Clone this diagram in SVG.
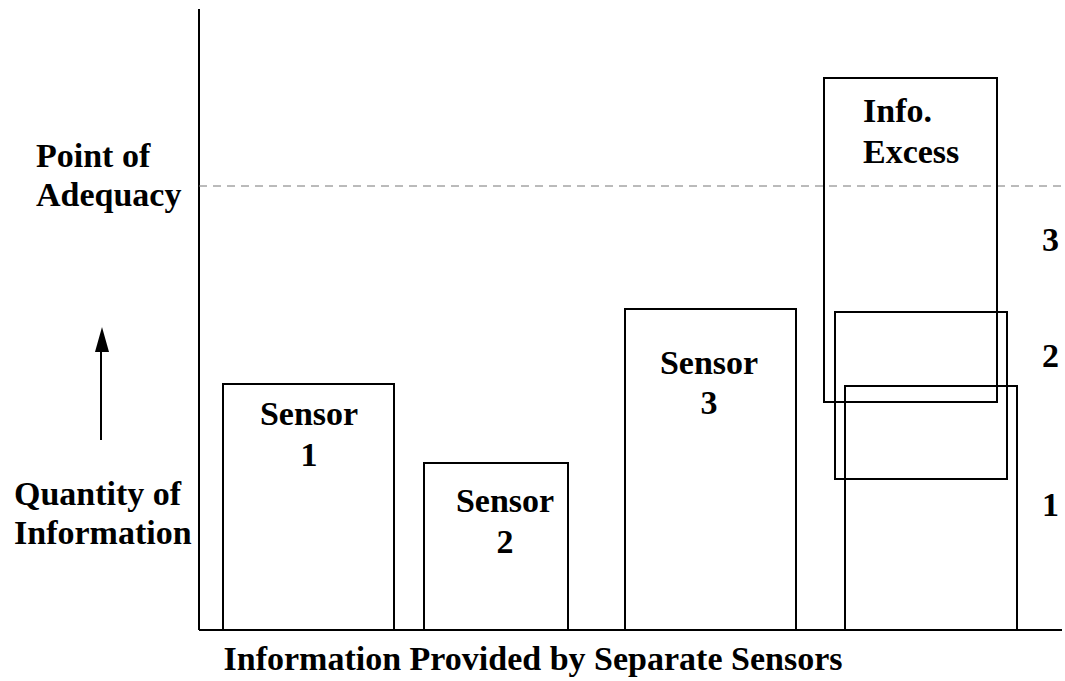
<svg xmlns="http://www.w3.org/2000/svg" width="1065" height="681" viewBox="0 0 1065 681">
<style>
text{font-family:"Liberation Serif","Times New Roman",serif;font-weight:bold;font-size:34px;fill:#000}
.c{text-anchor:middle}
.box{fill:none;stroke:#000;stroke-width:2}
.axis{stroke:#000;stroke-width:2;fill:none}
</style>
<rect width="1065" height="681" fill="#fff"/>
<g id="axes">
<line class="axis" x1="199" y1="9" x2="199" y2="630"/>
<line class="axis" x1="199" y1="630" x2="1062" y2="630"/>
<line x1="199" y1="186" x2="1065" y2="186" stroke="#777" stroke-width="1" stroke-dasharray="8 6"/>
</g>
<g id="sensor1">
<rect class="box" x="223" y="384" width="171" height="246"/>
<text class="c" x="309" y="425">Sensor</text>
<text class="c" x="309" y="466">1</text>
</g>
<g id="sensor2">
<rect class="box" x="424" y="463" width="144" height="167"/>
<text class="c" x="505" y="512">Sensor</text>
<text class="c" x="505" y="553">2</text>
</g>
<g id="sensor3">
<rect class="box" x="625" y="309" width="171" height="321"/>
<text class="c" x="709" y="374">Sensor</text>
<text class="c" x="709" y="414">3</text>
</g>
<g id="fused1">
<rect class="box" x="845" y="386" width="172" height="244"/>
</g>
<g id="fused2">
<rect class="box" x="835" y="312" width="172" height="167"/>
</g>
<g id="fused3">
<rect class="box" x="824" y="78" width="173" height="324"/>
<text x="863" y="122">Info.</text>
<text x="863" y="163">Excess</text>
</g>
<g id="labels">
<text x="36" y="167">Point of</text>
<text x="36" y="206">Adequacy</text>
<text x="14" y="505">Quantity of</text>
<text x="14" y="544">Information</text>
<text x="1042" y="251">3</text>
<text x="1042" y="367">2</text>
<text x="1042" y="516">1</text>
<text class="c" x="533" y="670">Information Provided by Separate Sensors</text>
</g>
<g id="connectors">
<line x1="101" y1="440" x2="101" y2="350" stroke="#000" stroke-width="2"/>
<polygon points="102,327 95,352 109,352" fill="#000"/>
</g>
</svg>
